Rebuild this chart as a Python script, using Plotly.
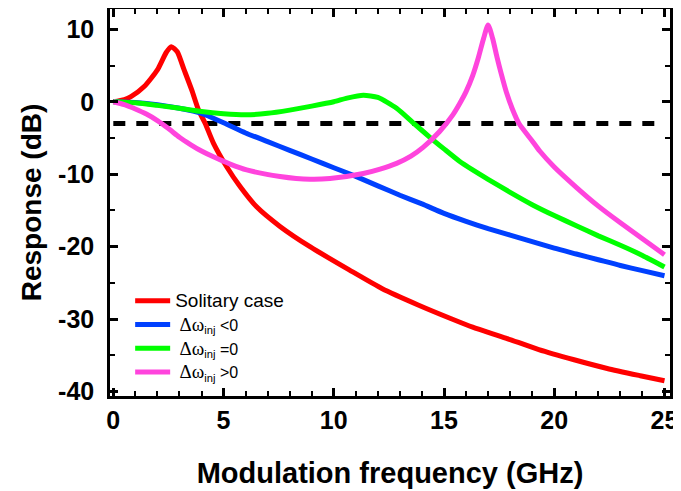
import plotly.graph_objects as go

# ---- data ----
freq_solitary = [0, 0.5, 0.8, 1.4, 2.0, 2.4, 2.63, 2.9, 3.2, 3.56, 3.86, 4.17, 4.54, 5.15, 5.75,
                 6.5, 7.56, 8.92, 10.7, 12.2, 13.8, 15.3, 16.3, 17.8, 19.3, 20.9, 22.4, 23.9, 25]
resp_solitary = [0, 0.3, 0.7, 2.1, 4.4, 6.8, 7.6, 6.9, 4.5, 1.6, -1.1, -3.0, -5.7, -9.0, -11.7,
                 -14.5, -17.2, -20.0, -23.2, -25.8, -28.0, -29.9, -31.1, -32.6, -34.2, -35.6,
                 -36.8, -37.8, -38.5]

freq_neg = [0, 1, 2, 3, 4, 5, 6, 7, 8, 9, 10, 11, 12, 13, 14, 15, 16, 17, 18, 19, 20, 21, 22, 23, 24, 25]
resp_neg = [0, -0.1, -0.4, -0.9, -1.6, -2.9, -4.3, -5.5, -6.7, -7.9, -9.1, -10.3, -11.6, -12.9,
            -14.1, -15.4, -16.5, -17.5, -18.4, -19.3, -20.2, -21.0, -21.8, -22.6, -23.3, -24.0]

freq_zero = [0, 1, 2, 3, 4, 5, 6, 7, 8, 9, 10, 10.6, 11.34, 12, 12.85, 13.6, 14.36, 15.0, 15.7,
             16.3, 17, 18, 19, 20, 21, 22, 23, 24, 25]
resp_zero = [0, -0.15, -0.5, -0.9, -1.35, -1.65, -1.8, -1.6, -1.15, -0.6, 0.0, 0.5, 0.9, 0.6,
             -0.9, -2.9, -4.9, -6.5, -8.2, -9.4, -10.7, -12.5, -14.2, -15.7, -17.1, -18.5,
             -19.8, -21.2, -22.8]

freq_pos = [0, 0.5, 1, 1.5, 2, 2.5, 3, 3.5, 4, 4.54, 5.3, 6.05, 7.56, 8.92, 9.83, 11.34, 12.1,
            12.85, 13.5, 14.05, 14.8, 15.4, 15.7, 16.0, 16.3, 16.55, 16.8, 17.0, 17.2, 17.4,
            17.6, 17.83, 18.1, 18.4, 19, 19.34, 20, 21, 22, 23, 24, 25]
resp_pos = [0, -0.4, -1.0, -1.7, -2.6, -3.7, -4.9, -5.9, -6.8, -7.6, -8.6, -9.4, -10.3, -10.7,
            -10.6, -9.9, -9.3, -8.5, -7.5, -6.3, -4.1, -1.8, -0.3, 1.4, 3.6, 6.0, 8.8, 10.6,
            8.8, 6.2, 3.8, 1.3, -1.0, -3.0, -5.4, -6.8, -9.0, -11.8, -14.4, -16.7, -18.9, -21.1]

threshold_freq = [0, 25]
threshold_db = [-3, -3]

series_names = [
    "<span style='font-size:19px'>Solitary case</span>",
    " <span style='font-family:Liberation Serif;font-size:19px'>Δω</span><sub>inj</sub> &lt;0",
    " <span style='font-family:Liberation Serif;font-size:19px'>Δω</span><sub>inj</sub> =0",
    " <span style='font-family:Liberation Serif;font-size:19px'>Δω</span><sub>inj</sub> &gt;0",
]
series_colors = ["#ff0000", "#0040ff", "#00ff00", "#ff44dd"]

x_tickvals = [0, 5, 10, 15, 20, 25]
x_ticktext = ["0", "5", "10", "15", "20", "25"]
y_tickvals = [10, 0, -10, -20, -30, -40]
y_ticktext = ["10", "0", "-10", "-20", "-30", "-40"]

fig = go.Figure()

fig.add_trace(go.Scatter(x=threshold_freq, y=threshold_db, mode="lines",
                         line=dict(color="black", width=5, dash="12px,11px"),
                         showlegend=False, hoverinfo="skip"))

for xs, ys, name, col in zip([freq_solitary, freq_neg, freq_zero, freq_pos],
                             [resp_solitary, resp_neg, resp_zero, resp_pos],
                             series_names, series_colors):
    fig.add_trace(go.Scatter(x=xs, y=ys, mode="lines", name=name,
                             line=dict(color=col, width=5, shape="spline", smoothing=0.6)))

axis_common = dict(
    showline=True, linecolor="black", linewidth=2.5, mirror="ticks",
    ticks="inside", ticklen=8, tickwidth=2.5, tickcolor="black",
    showgrid=False, zeroline=False, automargin=False,
    tickfont=dict(family="Liberation Sans", size=25, color="black", weight="bold"),
)

fig.update_xaxes(
    range=[-0.15, 25.25], tickmode="array", tickvals=x_tickvals, ticktext=x_ticktext,
    minor=dict(dtick=1, tick0=0, ticks="inside", ticklen=5, tickwidth=2, tickcolor="black"),
    ticklabelstandoff=0,
    title=dict(text="Modulation frequency (GHz)", standoff=30,
               font=dict(family="Liberation Sans", size=29, color="black", weight="bold")),
    **axis_common,
)
fig.update_yaxes(
    range=[-40.6, 12.8], tickmode="array", tickvals=y_tickvals, ticktext=y_ticktext,
    minor=dict(dtick=5, tick0=0, ticks="inside", ticklen=5, tickwidth=2, tickcolor="black"),
    ticklabelstandoff=8,
    title=dict(text="Response (dB)", standoff=9,
               font=dict(family="Liberation Sans", size=28, color="black", weight="bold")),
    **axis_common,
)

# the page places the figure 8px from the top-left corner, so the figure is 8px smaller
fig.update_layout(
    width=673, height=483,
    margin=dict(l=102, r=11, t=1, b=95),
    paper_bgcolor="white", plot_bgcolor="white",
    font=dict(family="Liberation Sans", color="black"),
    legend=dict(x=0.036, y=0.29, xanchor="left", yanchor="top", itemwidth=35,
                bgcolor="rgba(0,0,0,0)", borderwidth=0,
                font=dict(family="Liberation Sans", size=16, color="black")),
)

fig.write_html("out.html")
